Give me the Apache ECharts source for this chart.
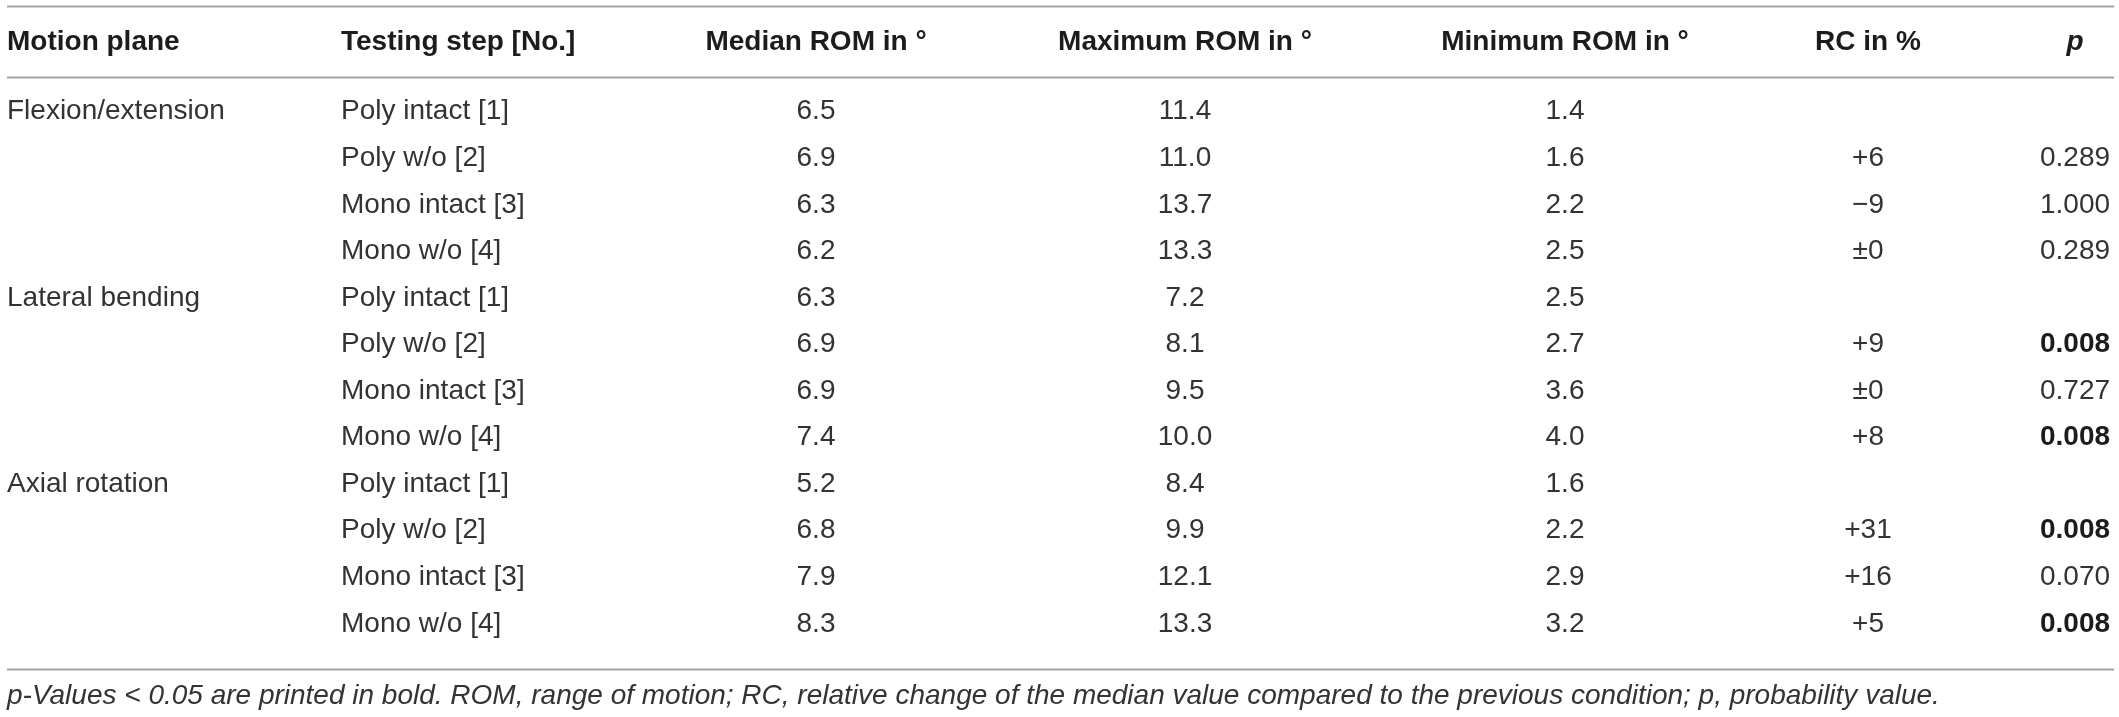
<!DOCTYPE html>
<html>
<head>
<meta charset="utf-8">
<script src="https://cdn.jsdelivr.net/npm/echarts@6/dist/echarts.min.js"></script>
<style>
  html, body { margin: 0; padding: 0; background: #fff; }
  #table { width: 2119px; height: 717px; }
</style>
</head>
<body>
<div id="table"></div>
<script>
// ===== 表格数据 =====
const headers = ['Motion plane', 'Testing step [No.]', 'Median ROM in °', 'Maximum ROM in °', 'Minimum ROM in °', 'RC in %', 'p'];
const motionPlanes = ['Flexion/extension', 'Lateral bending', 'Axial rotation'];
const testingSteps = ['Poly intact [1]', 'Poly w/o [2]', 'Mono intact [3]', 'Mono w/o [4]'];
const medianRom = [6.5, 6.9, 6.3, 6.2, 6.3, 6.9, 6.9, 7.4, 5.2, 6.8, 7.9, 8.3];
const maxRom    = [11.4, 11.0, 13.7, 13.3, 7.2, 8.1, 9.5, 10.0, 8.4, 9.9, 12.1, 13.3];
const minRom    = [1.4, 1.6, 2.2, 2.5, 2.5, 2.7, 3.6, 4.0, 1.6, 2.2, 2.9, 3.2];
const rcPercent = [null, 6, -9, 0, null, 9, 0, 8, null, 31, 16, 5];
const pValues   = [null, 0.289, 1.000, 0.289, null, 0.008, 0.727, 0.008, null, 0.008, 0.070, 0.008];
const footnote = 'p-Values < 0.05 are printed in bold. ROM, range of motion; RC, relative change of the median value compared to the previous condition; p, probability value.';

// ===== 版式 =====
const FONT = '"Liberation Sans", Arial, Helvetica, sans-serif';
const columnX = [7, 341, 816, 1185, 1565, 1868, 2075];
const columnAlign = ['left', 'left', 'center', 'center', 'center', 'center', 'center'];
const headerRow = -1.5;
const footnoteRow = 12.55;
const ruleRows = [-2.27, -0.75, 11.97];

function formatRc(v) {
    if (v === null) return '';
    if (v > 0) return '+' + v;
    if (v < 0) return '\u2212' + Math.abs(v);
    return '\u00b10';
}

// ===== 组装单元格 =====
const cells = [];
headers.forEach((h, c) => {
    cells.push({ col: c, row: headerRow, text: h, weight: 'bold', italic: c === 6, color: '#1c1c1c' });
});
medianRom.forEach((m, i) => {
    const row = i;
    const step = i % testingSteps.length;
    if (step === 0) {
        cells.push({ col: 0, row, text: motionPlanes[i / testingSteps.length] });
    }
    cells.push({ col: 1, row, text: testingSteps[step] });
    cells.push({ col: 2, row, text: m.toFixed(1) });
    cells.push({ col: 3, row, text: maxRom[i].toFixed(1) });
    cells.push({ col: 4, row, text: minRom[i].toFixed(1) });
    if (rcPercent[i] !== null) cells.push({ col: 5, row, text: formatRc(rcPercent[i]) });
    if (pValues[i] !== null) {
        const sig = pValues[i] < 0.05;
        cells.push({ col: 6, row, text: pValues[i].toFixed(3), weight: sig ? 'bold' : 'normal', color: sig ? '#1c1c1c' : null });
    }
});
cells.push({ col: 0, row: footnoteRow, text: footnote, italic: true, size: 28 });

function renderCell(params, api) {
    const cell = cells[params.dataIndex];
    const pt = api.coord([api.value(0), api.value(1)]);
    const align = columnAlign[cell.col];
    return {
        type: 'text',
        x: pt[0],
        y: pt[1],
        silent: true,
        style: {
            text: cell.text,
            fill: cell.color || '#333333',
            fontFamily: FONT,
            fontSize: cell.size || 28,
            fontWeight: cell.weight || 'normal',
            fontStyle: cell.italic ? 'italic' : 'normal',
            align: align,
            verticalAlign: 'middle',
            textAlign: align,
            textVerticalAlign: 'middle'
        }
    };
}

function renderRule(params, api) {
    const r = api.value(0);
    const a = api.coord([7, r]);
    const b = api.coord([2114, r]);
    return {
        type: 'line',
        silent: true,
        shape: { x1: a[0], y1: Math.round(a[1]) + 0.5, x2: b[0], y2: Math.round(b[1]) + 0.5 },
        style: { stroke: '#a3a3a3', lineWidth: 2 }
    };
}

const chart = echarts.init(document.getElementById('table'), null, { renderer: 'canvas' });
chart.setOption({
    animation: false,
    backgroundColor: '#ffffff',
    grid: { left: 0, right: 0, top: 0, bottom: 0 },
    xAxis: { type: 'value', min: 0, max: 2119, show: false },
    yAxis: { type: 'value', min: -2.4, max: 13.0, inverse: true, show: false },
    series: [
        {
            type: 'custom',
            name: 'rules',
            silent: true,
            data: ruleRows.map(r => [r]),
            encode: { y: 0 },
            renderItem: renderRule
        },
        {
            type: 'custom',
            name: 'cells',
            silent: true,
            data: cells.map(c => [columnX[c.col], c.row]),
            encode: { x: 0, y: 1 },
            renderItem: renderCell
        }
    ]
});
</script>
</body>
</html>
